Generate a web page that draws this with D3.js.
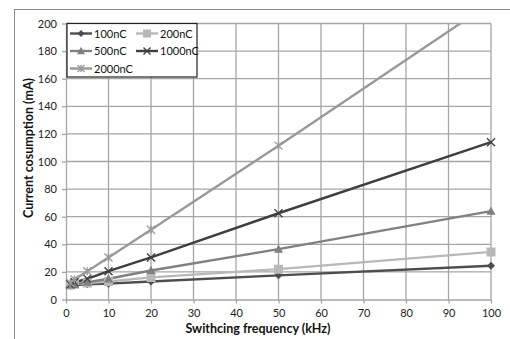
<!DOCTYPE html>
<html><head><meta charset="utf-8">
<script src="https://cdn.jsdelivr.net/npm/d3@7"></script>
<style>body{margin:0;background:#fff}svg{display:block;font-family:Lato,"Open Sans",sans-serif}</style>
</head><body><svg id="c" width="510" height="339"></svg>
<script>
const freqs = [1, 2, 5, 10, 20, 50, 100];
const seriesNames = ["100nC", "200nC", "500nC", "1000nC", "2000nC"];
const s100 = [10, 10.5, 11, 11.5, 13, 17.5, 24.5];
const s200 = [10.5, 11, 12, 13, 16, 22, 34.5];
const s500 = [10.5, 11, 12.5, 15, 21, 36.5, 64];
const s1000 = [11, 12.5, 15, 20.5, 30.5, 62.5, 114];
const s2000 = [12, 14.5, 20.5, 30.5, 50.5, 111.5, 215];
const xTicks = [0,10,20,30,40,50,60,70,80,90,100];
const yTicks = [0,20,40,60,80,100,120,140,160,180,200];
const colors = ["#4d4d4d", "#b8b8b8", "#808080", "#3f3f3f", "#999999"];
const symbols = ["diamond", "square", "triangle", "cross", "star"];
const allSeries = [s100, s200, s500, s1000, s2000];

const svg = d3.select("#c");
const x = d3.scaleLinear().domain([0,100]).range([66,491]);
const y = d3.scaleLinear().domain([0,200]).range([299.5,23.5]);

// outer border
svg.append("rect").attr("x",14.5).attr("y",9.5).attr("width",520).attr("height",360)
  .attr("fill","none").attr("stroke","#8a8a8a").attr("stroke-width",1);

// gridlines
const g = svg.append("g");
g.selectAll(".gx").data(xTicks.slice(1)).join("line")
  .attr("x1",d=>x(d)).attr("x2",d=>x(d)).attr("y1",y(0)).attr("y2",y(200))
  .attr("stroke","#a5a5a5").attr("stroke-width",1.3);
g.selectAll(".gy").data(yTicks.slice(1)).join("line")
  .attr("x1",x(0)).attr("x2",x(100)).attr("y1",d=>y(d)).attr("y2",d=>y(d))
  .attr("stroke","#a5a5a5").attr("stroke-width",1.3);

// axes
const xa = svg.append("g").attr("transform",`translate(0,${y(0)})`)
  .call(d3.axisBottom(x).tickValues(xTicks).tickSize(4).tickSizeOuter(0).tickPadding(6));
const ya = svg.append("g").attr("transform",`translate(${x(0)},0)`)
  .call(d3.axisLeft(y).tickValues(yTicks).tickSize(4).tickSizeOuter(0).tickPadding(5));
[xa,ya].forEach(a=>{
  a.select(".domain").attr("stroke","#a5a5a5").attr("stroke-width",1.3);
  a.selectAll(".tick line").attr("stroke","#a5a5a5").attr("stroke-width",1.3);
  a.selectAll("text").attr("font-size",11).attr("fill","#222").attr("font-family","Lato,'Open Sans',sans-serif");
});

// clip
svg.append("clipPath").attr("id","cp").append("rect")
  .attr("x",x(0)-6).attr("y",y(200)).attr("width",x(100)-x(0)+12).attr("height",y(0)-y(200)+6);

function symPath(type, size){
  const s = size;
  if(type==="diamond") return `M0,${-s}L${s},0L0,${s}L${-s},0Z`;
  if(type==="square") return `M${-s},${-s}H${s}V${s}H${-s}Z`;
  if(type==="triangle") return `M0,${-s*1.05}L${s},${s*0.8}L${-s},${s*0.8}Z`;
  if(type==="cross") return `M${-s},${-s}L${s},${s}M${-s},${s}L${s},${-s}`;
  if(type==="star") return `M${-s},${-s}L${s},${s}M${-s},${s}L${s},${-s}M0,${-s}V${s}`;
}
function drawMarker(sel, i, size){
  const t = symbols[i];
  const filled = t!=="cross" && t!=="star";
  sel.append("path").attr("d",symPath(t,size))
    .attr("fill",filled?colors[i]:"none")
    .attr("stroke",colors[i]).attr("stroke-width",filled?0:1.4);
}

const plot = svg.append("g").attr("clip-path","url(#cp)");
const line = d3.line().x((d,i)=>x(freqs[i])).y(d=>y(d));
const sizes = [4,4.5,4.5,4,4];
allSeries.forEach((vals,i)=>{
  plot.append("path").datum(vals).attr("d",line)
    .attr("fill","none").attr("stroke",colors[i]).attr("stroke-width",2.4);
});
allSeries.forEach((vals,i)=>{
  vals.forEach((v,j)=>{
    if(v>200) return;
    const m = plot.append("g").attr("transform",`translate(${x(freqs[j])},${y(v)})`);
    drawMarker(m,i,sizes[i]);
  });
});

// legend
const lg = svg.append("g");
lg.append("rect").attr("x",67).attr("y",23.5).attr("width",130).attr("height",53.5)
  .attr("fill","#fff").attr("stroke","#222").attr("stroke-width",1.2);
const lpos = [[70,33.5],[136,33.5],[70,51],[136,51],[70,68.5]];
seriesNames.forEach((n,i)=>{
  const [lx,ly] = lpos[i];
  lg.append("line").attr("x1",lx).attr("x2",lx+22).attr("y1",ly).attr("y2",ly)
    .attr("stroke",colors[i]).attr("stroke-width",2.4);
  const m = lg.append("g").attr("transform",`translate(${lx+11},${ly})`);
  drawMarker(m,i,sizes[i]-0.5);
  lg.append("text").attr("x",lx+24).attr("y",ly+4).attr("font-size",11).attr("fill","#111").text(n);
});

// titles
svg.append("text").attr("x",258).attr("y",333).attr("text-anchor","middle")
  .attr("font-size",12.5).attr("font-weight","bold").attr("fill","#111").text("Swithcing frequency (kHz)");
svg.append("text").attr("transform","translate(33,148) rotate(-90)").attr("text-anchor","middle")
  .attr("font-size",12.5).attr("font-weight","bold").attr("fill","#111").text("Current cosumption (mA)");
</script></body></html>
